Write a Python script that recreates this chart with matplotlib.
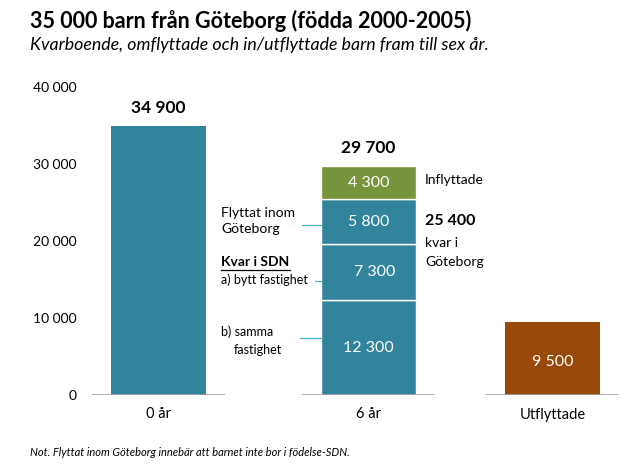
import matplotlib
matplotlib.use("Agg")
import matplotlib.pyplot as plt

categories = ["0 år", "6 år", "Utflyttade"]
born_total = [34900]
stack_labels = ["b) samma fastighet", "a) bytt fastighet", "Flyttat inom Göteborg", "Inflyttade"]
stack_values = [12300, 7300, 5800, 4300]
moved_out = [9500]
kvar_goteborg = 25400
yticks = [0, 10000, 20000, 30000, 40000]

TEAL = "#31849B"
GREEN = "#77933C"
BROWN = "#984807"
FONT = "Lato"

def fmt(v):
    return f"{v:,.0f}".replace(",", " ")

plt.rcParams["font.family"] = [FONT, "DejaVu Sans"]

fig = plt.figure(figsize=(6.35, 4.76), dpi=100)
W, H = 635, 476
ax_left, ax_right = 92, 619
y0_px, ytop_px = 395, 87
ax = fig.add_axes([ax_left / W, (H - y0_px) / H, (ax_right - ax_left) / W, (y0_px - ytop_px) / H])

pos = [0, 1, 1.876]
bw = 0.452
ax.set_xlim(-0.3167, 2.193)
ax.set_ylim(0, 40000)

# Bar 0 år
ax.bar(pos[0], born_total[0], width=bw, color=TEAL, zorder=2)
ax.text(pos[0], born_total[0] + 1300, fmt(born_total[0]), ha="center", va="bottom",
        fontsize=12.5, fontweight="bold")

# Stacked bar 6 år
bottom = 0
colors = [TEAL, TEAL, TEAL, GREEN]
xoff = [0, 0.03, 0, 0]
for v, c, dx in zip(stack_values, colors, xoff):
    ax.bar(pos[1], v, width=bw, bottom=bottom, color=c, edgecolor="white", linewidth=1.0, zorder=2)
    ax.text(pos[1] + dx, bottom + v / 2, fmt(v), ha="center", va="center", color="white", fontsize=11.5)
    bottom += v
ax.text(pos[1], bottom + 1300, fmt(bottom), ha="center", va="bottom", fontsize=12.5, fontweight="bold")

# Utflyttade
ax.bar(pos[2], moved_out[0], width=bw, color=BROWN, zorder=2)
ax.text(pos[2], moved_out[0] / 2 - 500, fmt(moved_out[0]), ha="center", va="center",
        color="white", fontsize=11.5)

# baseline segments
for p in pos:
    ax.hlines(0, p - 0.319, p + 0.319, color="#A0A0A0", linewidth=1.2, zorder=3)

# annotations left of bar 2
lc = "#4BACC6"
def px2x(px):
    return -0.3167 + (px - ax_left) / 210
def px2y(py):
    return (y0_px - py) / (y0_px - ytop_px) * 40000

ax.text(px2x(221), px2y(221), "Flyttat inom\nGöteborg", ha="left", va="center", fontsize=10, linespacing=1.35)
ax.plot([px2x(302), px2x(321)], [px2y(225), px2y(225)], color=lc, lw=0.9, clip_on=False)
ax.text(px2x(221), px2y(262), "Kvar i SDN", ha="left", va="center", fontsize=10, fontweight="bold")
ax.plot([px2x(221), px2x(290)], [px2y(270), px2y(270)], color="black", lw=0.9, clip_on=False)
ax.text(px2x(221), px2y(280), "a) bytt fastighet", ha="left", va="center", fontsize=9)
ax.plot([px2x(315), px2x(321)], [px2y(281), px2y(281)], color=lc, lw=0.9, clip_on=False)
ax.text(px2x(221), px2y(332), "b) samma", ha="left", va="center", fontsize=9)
ax.text(px2x(234), px2y(350), "fastighet", ha="left", va="center", fontsize=9)
ax.plot([px2x(300), px2x(321)], [px2y(338), px2y(338)], color=lc, lw=0.9, clip_on=False)

# annotations right of bar 2
ax.text(px2x(425), px2y(180), "Inflyttade", ha="left", va="center", fontsize=10)
ax.text(px2x(425), px2y(221), fmt(kvar_goteborg), ha="left", va="center", fontsize=11.5, fontweight="bold")
ax.text(px2x(425), px2y(243), "kvar i", ha="left", va="center", fontsize=10)
ax.text(px2x(425), px2y(262), "Göteborg", ha="left", va="center", fontsize=10)

# axes styling
ax.set_yticks(yticks)
ax.set_yticklabels([fmt(v) for v in yticks], fontsize=10)
ax.set_xticks(pos)
ax.set_xticklabels(categories, fontsize=10.5)
ax.tick_params(axis="y", length=0, pad=11)
ax.tick_params(axis="x", length=0, pad=9)
for s in ax.spines.values():
    s.set_visible(False)

fig.text(30 / W, 1 - 21 / H, "35 000 barn från Göteborg (födda 2000-2005)", ha="left", va="center",
         fontsize=15.5, fontweight="bold")
fig.text(30 / W, 1 - 45 / H, "Kvarboende, omflyttade och in/utflyttade barn fram till sex år.",
         ha="left", va="center", fontsize=12.8, style="italic")
fig.text(30 / W, 1 - 452 / H, "Not. Flyttat inom Göteborg innebär att barnet inte bor i födelse-SDN.",
         ha="left", va="center", fontsize=8, style="italic")

fig.savefig("out.png", dpi=100)
